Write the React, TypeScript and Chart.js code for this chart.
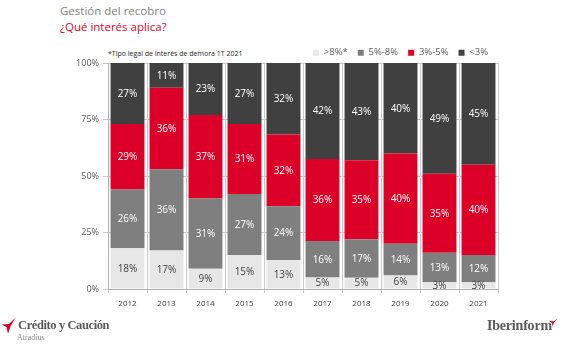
import React, { useEffect, useRef } from "react";
import { Chart, registerables } from "chart.js";

Chart.register(...registerables);

const years = ["2012", "2013", "2014", "2015", "2016", "2017", "2018", "2019", "2020", "2021"];
const over8 = [18, 17, 9, 15, 13, 5, 5, 6, 3, 3];
const from5to8 = [26, 36, 31, 27, 24, 16, 17, 14, 13, 12];
const from3to5 = [29, 36, 37, 31, 32, 36, 35, 40, 35, 40];
const under3 = [27, 11, 23, 27, 32, 42, 43, 40, 49, 45];
const seriesNames = [">8%*", "5%-8%", "3%-5%", "<3%"];
const yTicks = [0, 25, 50, 75, 100];

const COLORS = ["#e7e7e7", "#7f7f7f", "#dc0028", "#404040"];
const LABEL_COLORS = ["#404040", "#ffffff", "#ffffff", "#ffffff"];
const FONT = "'Open Sans', sans-serif";

const segLabels = {
  id: "segLabels",
  afterDatasetsDraw(chart: any) {
    const ctx = chart.ctx;
    const top = chart.chartArea.top;
    ctx.save();
    ctx.font = "10px 'Open Sans'";
    ctx.textAlign = "center";
    ctx.textBaseline = "middle";
    chart.data.datasets.forEach((ds: any, i: number) => {
      const meta = chart.getDatasetMeta(i);
      meta.data.forEach((bar: any, j: number) => {
        const p = bar.getProps(["x", "y", "base"], true);
        const y = Math.max(p.y, top);
        ctx.fillStyle = LABEL_COLORS[i];
        ctx.fillText(ds.raw[j] + "%", p.x, (y + p.base) / 2 + 0.5);
      });
    });
    ctx.restore();
  },
};

const legendFit = {
  id: "legendFit",
  beforeInit(chart: any) {
    const orig = chart.legend.fit;
    chart.legend.fit = function () {
      orig.call(this);
      this.height = 25;
    };
  },
};

function CCLogo() {
  return (
    <svg width="16" height="18" style={{ position: "absolute", left: 1, top: 317 }} viewBox="0 0 16 18">
      <polygon points="14.5,0.5 8,7 0.5,7.5 5.5,10 7,17 9.5,9.5" fill="#d9002b" />
    </svg>
  );
}

function IbLogo() {
  return (
    <svg width="10" height="9" style={{ position: "absolute", left: 548, top: 318 }} viewBox="0 0 10 9">
      <polygon points="9.5,0.5 5.5,3.5 0.5,2.5 4,5 4.5,8.5 6,4.5" fill="#d9002b" />
    </svg>
  );
}

export default function App() {
  const ref = useRef<HTMLCanvasElement>(null);
  useEffect(() => {
    const seriesData = [over8, from5to8, from3to5, under3];
    const totals = years.map((_, j) => seriesData.reduce((s, d) => s + d[j], 0));
    const chart = new Chart(ref.current as HTMLCanvasElement, {
      type: "bar",
      data: {
        labels: years,
        datasets: seriesData.map((d, i) => ({
          label: seriesNames[i],
          raw: d,
          data: d.map((v, j) => (v / totals[j]) * 100),
          backgroundColor: COLORS[i],
          borderWidth: 0,
          categoryPercentage: 1,
          barPercentage: 0.87,
        })) as any,
      },
      options: {
        animation: false,
        responsive: false,
        maintainAspectRatio: false,
        layout: { padding: { left: 60, right: 69, top: 38, bottom: 35 } },
        plugins: {
          legend: {
            position: "top",
            align: "end",
            labels: {
              boxWidth: 6,
              boxHeight: 6,
              padding: 10,
              color: "#595959",
              font: { family: FONT, size: 9.5 },
            },
          },
          tooltip: { enabled: false },
        },
        scales: {
          x: {
            stacked: true,
            grid: { offset: true, color: "#c9c9c9", drawTicks: true, tickLength: 4 },
            border: { color: "#b0b0b0" },
            ticks: { color: "#404040", font: { family: FONT, size: 8 }, padding: 6 },
            afterFit: (s: any) => {
              s.height = 20;
            },
          },
          y: {
            stacked: true,
            min: 0,
            max: 100,
            afterBuildTicks: (s: any) => {
              s.ticks = yTicks.map((v) => ({ value: v }));
            },
            grid: { color: "#c9c9c9", tickLength: 5 },
            border: { color: "#b0b0b0" },
            ticks: {
              color: "#595959",
              font: { family: FONT, size: 9 },
              padding: 4,
              callback: (v: any) => v + "%",
            },
            afterFit: (s: any) => {
              s.width = 48;
            },
          },
        },
      },
      plugins: [segLabels, legendFit],
    });
    return () => chart.destroy();
  }, []);

  return (
    <div style={{ position: "fixed", left: 0, top: 0, width: 567, height: 344, background: "#fff", overflow: "hidden", fontFamily: FONT }}>
      <div style={{ position: "absolute", left: 60, top: 3, fontSize: 11.5, color: "#7f7f7f", whiteSpace: "nowrap" }}>Gestión del recobro</div>
      <div style={{ position: "absolute", left: 60, top: 19, fontSize: 11.5, color: "#e4002b", whiteSpace: "nowrap" }}>¿Qué interés aplica?</div>
      <div style={{ position: "absolute", left: 108, top: 49, fontSize: 7, color: "#262626", whiteSpace: "nowrap" }}>*Tipo legal de interés de demora 1T 2021</div>
      <canvas ref={ref} width={567} height={344} style={{ position: "absolute", left: 0, top: 0 }} />
      <CCLogo />
      <div style={{ position: "absolute", left: 18, top: 318, fontFamily: "'Liberation Serif', serif", fontSize: 12.5, fontWeight: 700, color: "#5a5a5a", whiteSpace: "nowrap", letterSpacing: -0.4 }}>Crédito y Caución</div>
      <div style={{ position: "absolute", left: 17, top: 333, fontFamily: "'Liberation Serif', serif", fontSize: 8, color: "#8a8a8a", whiteSpace: "nowrap" }}>Atradius</div>
      <div style={{ position: "absolute", left: 487, top: 318, fontFamily: "'Liberation Serif', serif", fontSize: 14, fontWeight: 700, color: "#5a5a5a", whiteSpace: "nowrap", letterSpacing: -0.2 }}>Iberinform</div>
      <IbLogo />
    </div>
  );
}
